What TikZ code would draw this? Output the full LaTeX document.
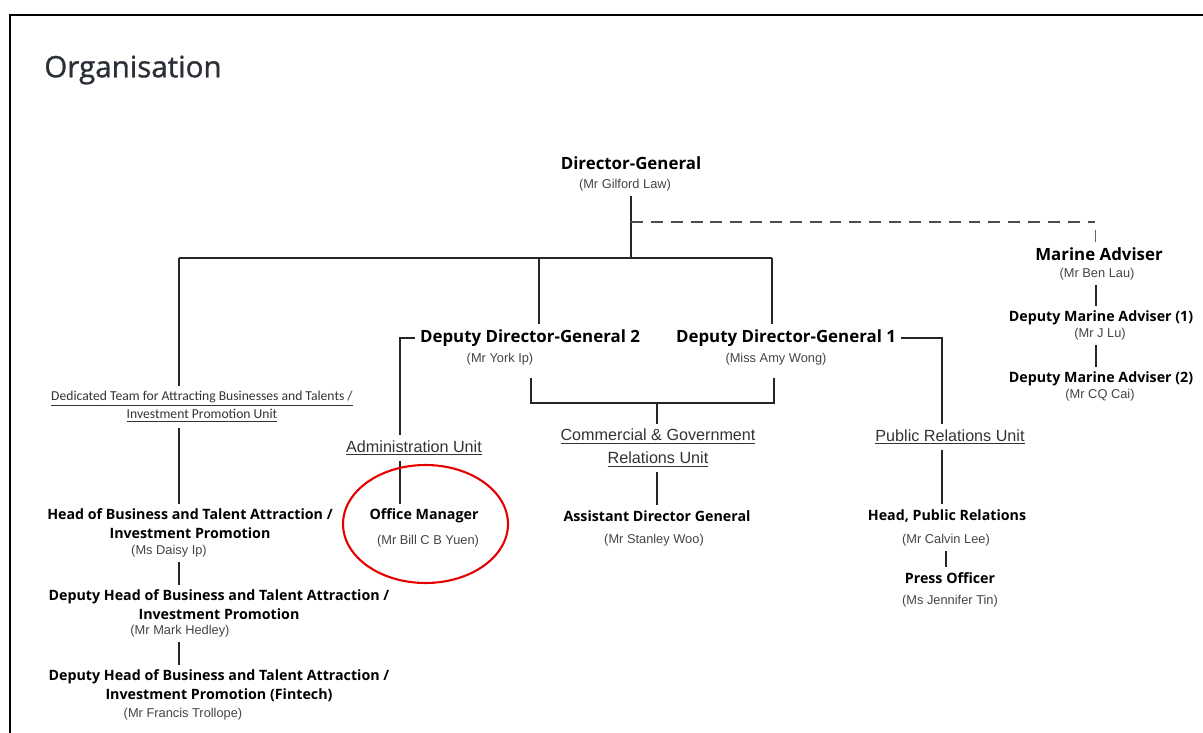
\documentclass[tikz,border=0pt]{standalone}
\usepackage{fontspec}
\setmainfont{Liberation Sans}
\newfontfamily\headfont{Open Sans}
\newfontfamily\titlefont[FakeBold=1.1]{Open Sans}
\newfontfamily\teamfont{Carlito}
\definecolor{titlegrey}{HTML}{2B2F36}
\definecolor{namegrey}{HTML}{444444}
\definecolor{unitgrey}{HTML}{333333}
\tikzset{
  chief/.style={font=\headfont\bfseries\fontsize{9.6}{11}\selectfont, text=black, inner sep=0pt, outer sep=3pt},
  post/.style={font=\headfont\bfseries\fontsize{8.1}{10.8}\selectfont, text=black, align=center, inner sep=0pt, outer sep=3pt},
  who/.style={font=\fontsize{7.3}{8}\selectfont, text=namegrey, inner sep=0pt, outer sep=3pt},
  unit/.style={font=\fontsize{9.2}{13.1}\selectfont, text=unitgrey, align=center, inner sep=0pt, outer sep=3pt},
  link/.style={line width=0.8pt, black!85},
}

\begin{document}
\begin{tikzpicture}[x=0.02cm, y=-0.02cm]
        \useasboundingbox (0,0) rectangle (1203,733);
        % Frame and title
        \draw[line width=1.3pt] (10,733) -- (10,15) -- (1203,15);
        \node[anchor=west, inner sep=0pt, text=titlegrey, font=\titlefont\fontsize{16.8}{18}\selectfont] (title) at (44,70) {Organisation};
        % Top level
        \node[chief] (dg) at (631,163) {Director-General};
        \node[who] (dgname) at (625,185) {(Mr Gilford Law)};
        \node[chief] (ma) at (1099,254) {Marine Adviser};
        \node[who] (maname) at (1097,274) {(Mr Ben Lau)};
        \node[post] (dma1) at (1101,318) {Deputy Marine Adviser (1)};
        \node[who] (dma1name) at (1100,334) {(Mr J Lu)};
        \node[post] (dma2) at (1101,379) {Deputy Marine Adviser (2)};
        \node[who] (dma2name) at (1100,395) {(Mr CQ Cai)};
        \node[chief] (ddg2) at (530,338) {Deputy Director-General 2};
        \node[who] (ddg2name) at (500,359) {(Mr York Ip)};
        \node[chief] (ddg1) at (786,338) {Deputy Director-General 1};
        \node[who] (ddg1name) at (776,359) {(Miss Amy Wong)};
        % Units
        \node[unit, font=\teamfont\fontsize{7.75}{10.2}\selectfont] (team) at (202,407) {\underline{Dedicated Team for Attracting Businesses and Talents /}\\\underline{Investment Promotion Unit}};
        \node[unit] (admin) at (414,448) {\underline{Administration Unit}};
        \node[unit] (cgr) at (658,448) {\underline{Commercial \& Government}\\\underline{Relations Unit}};
        \node[unit] (pru) at (950,437) {\underline{Public Relations Unit}};
        % Posts
        \node[post] (head) at (190,524) {Head of Business and Talent Attraction /\\Investment Promotion};
        \node[who] (headname) at (169,551) {(Ms Daisy Ip)};
        \node[post] (dhead1) at (219,605) {Deputy Head of Business and Talent Attraction /\\Investment Promotion};
        \node[who] (dhead1name) at (180,631) {(Mr Mark Hedley)};
        \node[post] (dhead2) at (219,686) {Deputy Head of Business and Talent Attraction /\\Investment Promotion (Fintech)};
        \node[who] (dhead2name) at (183,714) {(Mr Francis Trollope)};
        \node[post] (om) at (424,516) {Office Manager};
        \node[who] (omname) at (428,541) {(Mr Bill C B Yuen)};
        \node[post] (adg) at (657,516) {Assistant Director General};
        \node[who] (adgname) at (654,540) {(Mr Stanley Woo)};
        \node[post] (hpr) at (947,516) {Head, Public Relations};
        \node[who] (hprname) at (946,540) {(Mr Calvin Lee)};
        \node[post] (po) at (950,578) {Press Officer};
        \node[who] (poname) at (950,601) {(Ms Jennifer Tin)};
        % Junctions
        \coordinate (jdg) at (631,258);
        \coordinate (bl) at (179,258);
        \coordinate (b2) at (539,258);
        \coordinate (br) at (772,258);
        \coordinate (al) at (400,338);
        \coordinate (ar) at (942,338);
        \coordinate (c2) at (531,403);
        \coordinate (c1) at (774,403);
        \coordinate (cm) at (657,403);
        \coordinate (tx) at (179,0);
        \coordinate (mx) at (1096,0);
        % Lines
        \draw[link] (dg.south -| jdg) ++(0,21) -- (jdg);
        \draw[link] (bl) -- (br);
        \draw[link] (bl) -- (team.north -| bl);
        \draw[link] (b2) -- (ddg2.north -| b2);
        \draw[link] (br) -- (ddg1.north -| br);
        \draw[link] (ddg2.west) -- (al) -- (admin.north -| al);
        \draw[link] (ddg1.east) -- (ar) -- (pru.north -| ar);
        \draw[link] (c2) ++(0,-25) -- (c2) -- (c1) -- ++(0,-25);
        \draw[link] (cm) -- (cgr.north -| cm);
        \draw[link] (cgr.south -| cm) -- (adg.north -| cm);
        \draw[link] (admin.south -| al) -- (om.north -| al);
        \draw[link] (pru.south -| ar) -- (hpr.north -| ar);
        \draw[link] (hprname.south) -- (po.north -| hprname.south);
        \draw[link] (team.south -| tx) -- (head.north -| tx);
        \draw[link] (headname.south -| tx) -- (dhead1.north -| tx);
        \draw[link] (dhead1name.south -| tx) -- (dhead2.north -| tx);
        \draw[link] (maname.south -| mx) -- (dma1.north -| mx);
        \draw[link] (dma1name.south -| mx) -- (dma2.north -| mx);
        % Marine Adviser (dashed)
        \draw[black!70, line width=0.6pt, dash pattern=on 6.8pt off 4.5pt] (jdg |- 0,222) -- (1095,222);
        \draw[black!60, line width=0.5pt] (1095,230) -- (ma.north -| 1095,0);
        % Highlight
        \draw[red!90!black, line width=1.2pt] (425.5,524) ellipse [x radius=1.65cm, y radius=1.18cm];
    \end{tikzpicture}
\end{document}
